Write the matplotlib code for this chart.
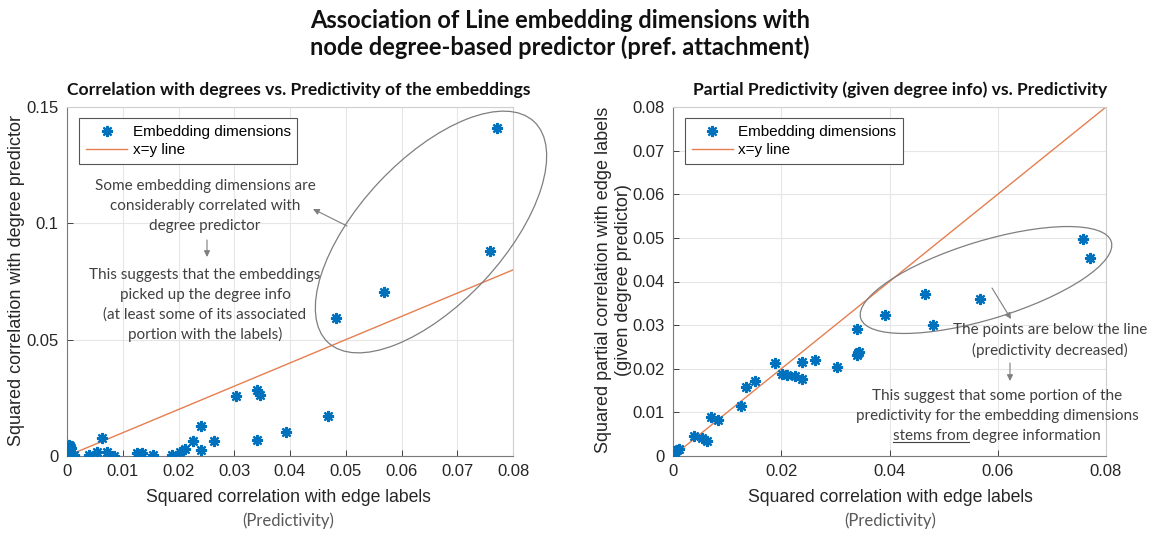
import matplotlib
matplotlib.use("Agg")
import matplotlib.pyplot as plt
from matplotlib.patches import Ellipse
from matplotlib.transforms import IdentityTransform

W, H = 1155, 534

# left panel: predictivity vs. squared correlation with degree predictor
left_x = [0.0771, 0.0758, 0.0569, 0.0482, 0.0468, 0.0392, 0.0341, 0.0340,
          0.0346, 0.0304, 0.0264, 0.0240, 0.0240, 0.0226, 0.0212, 0.0203,
          0.0189, 0.0154, 0.0135, 0.0126, 0.0084, 0.0071, 0.0062, 0.0054,
          0.0039, 0.0013, 0.0002, 0.0004, 0.0006, 0.0003, 0.0008, 0.0001]
left_y = [0.1410, 0.0882, 0.0703, 0.0592, 0.0171, 0.0102, 0.0068, 0.0283,
          0.0264, 0.0260, 0.0065, 0.0131, 0.0026, 0.0063, 0.0032, 0.0016,
          0.0003, 0.0003, 0.0011, 0.0011, 0.0000, 0.0017, 0.0078, 0.0017,
          0.0003, 0.0003, 0.0040, 0.0047, 0.0043, 0.0030, 0.0036, 0.0022]

# right panel: predictivity vs. partial predictivity (given degree info)
right_x = [0.0757, 0.0770, 0.0568, 0.0466, 0.0481, 0.0391, 0.0340, 0.0340,
           0.0344, 0.0342, 0.0303, 0.0263, 0.0239, 0.0239, 0.0225, 0.0210,
           0.0201, 0.0188, 0.0152, 0.0135, 0.0125, 0.0083, 0.0070, 0.0062,
           0.0054, 0.0038, 0.0012, 0.0008, 0.0004, 0.0002, 0.0001]
right_y = [0.0498, 0.0454, 0.0359, 0.0372, 0.0301, 0.0323, 0.0292, 0.0231,
           0.0238, 0.0235, 0.0203, 0.0220, 0.0215, 0.0176, 0.0184, 0.0185,
           0.0187, 0.0213, 0.0172, 0.0159, 0.0115, 0.0083, 0.0089, 0.0035,
           0.0041, 0.0046, 0.0016, 0.0013, 0.0008, 0.0004, 0.0001]

line_x = [0, 0.08]
line_y = [0, 0.08]

left_xticks = [0, 0.01, 0.02, 0.03, 0.04, 0.05, 0.06, 0.07, 0.08]
left_yticks = [0, 0.05, 0.1, 0.15]
right_xticks = [0, 0.02, 0.04, 0.06, 0.08]
right_yticks = [0, 0.01, 0.02, 0.03, 0.04, 0.05, 0.06, 0.07, 0.08]

BLUE = "#0072BD"
ORANGE = "#E57E50"
GRAY = "#7f7f7f"
TXT = "#404040"
AXFONT = "Liberation Sans"
CAL = "Lato"
NOTE = 11


def fx(x):
    return x / W


def fy(y):
    return 1 - y / H


def label(v):
    return "0" if v == 0 else f"{v:g}"


fig = plt.figure(figsize=(W / 100, H / 100), dpi=100)


def make_axes(l, t, r, b, xs, ys, xt, yt, xlim, ylim):
    ax = fig.add_axes([fx(l), fy(b), fx(r - l), (b - t) / H])
    ax.plot(xs, ys, ls="none", marker=(8, 2, 0), ms=8, mew=1.6,
            color=BLUE, label="Embedding dimensions", zorder=3)
    ax.plot(line_x, line_y, color=ORANGE, lw=1, label="x=y line", zorder=2)
    ax.set_xlim(*xlim)
    ax.set_ylim(*ylim)
    ax.set_xticks(xt)
    ax.set_yticks(yt)
    ax.set_xticklabels([label(v) for v in xt])
    ax.set_yticklabels([label(v) for v in yt])
    ax.grid(True, color="#e6e6e6", lw=0.8)
    ax.set_axisbelow(True)
    ax.tick_params(direction="in", length=4, width=0.6, colors="#262626",
                   labelsize=12, pad=6)
    for lab in ax.get_xticklabels() + ax.get_yticklabels():
        lab.set_fontfamily(AXFONT)
    for s in ("left", "bottom"):
        ax.spines[s].set_color("#7a7a7a")
        ax.spines[s].set_linewidth(0.8)
    for s in ("top", "right"):
        ax.spines[s].set_color("#cfcfcf")
        ax.spines[s].set_linewidth(0.8)
    leg = ax.legend(loc="upper left", bbox_to_anchor=(0.027, 0.968),
                    borderaxespad=0, fancybox=False, framealpha=1,
                    edgecolor="#555555", handlelength=2.7, handletextpad=0.35,
                    borderpad=0.45, labelspacing=0.25,
                    prop={"family": AXFONT, "size": 11})
    leg.get_frame().set_linewidth(0.8)
    return ax


ax1 = make_axes(67, 107, 513, 456, left_x, left_y, left_xticks, left_yticks,
                (0, 0.08), (0, 0.15))
ax2 = make_axes(673, 107, 1106, 456, right_x, right_y, right_xticks,
                right_yticks, (0, 0.08), (0, 0.08))

# titles
fig.text(fx(560), fy(20), "Association of Line embedding dimensions with",
         ha="center", va="center", family=CAL, weight="bold", size=17,
         color="#111111")
fig.text(fx(560), fy(47), "node degree-based predictor (pref. attachment)",
         ha="center", va="center", family=CAL, weight="bold", size=17,
         color="#111111")
fig.text(fx(299), fy(90), "Correlation with degrees vs. Predictivity of the embeddings",
         ha="center", va="center", family=CAL, weight="bold", size=12.6,
         color="#111111")
fig.text(fx(900), fy(90), "Partial Predictivity (given degree info) vs. Predictivity",
         ha="center", va="center", family=CAL, weight="bold", size=12.6,
         color="#111111")

# axis labels
for cx in (288, 890):
    fig.text(fx(cx), fy(497), "Squared correlation with edge labels",
             ha="center", va="center", family=AXFONT, size=12.7, color="#262626")
    fig.text(fx(cx), fy(521), "(Predictivity)", ha="center", va="center",
             family=CAL, size=12, color="#595959")
fig.text(fx(17), fy(280), "Squared correlation with degree predictor",
         ha="center", va="center", rotation=90, family=AXFONT, size=13,
         color="#262626")
fig.text(fx(603), fy(280), "Squared partial correlation with edge labels",
         ha="center", va="center", rotation=90, family=AXFONT, size=13,
         color="#262626")
fig.text(fx(624), fy(280), "(given degree predictor)",
         ha="center", va="center", rotation=90, family=AXFONT, size=13,
         color="#262626")

# annotations, left panel
left_notes = [(186, "Some embedding dimensions are"),
              (206, "considerably correlated with"),
              (226, "degree predictor"),
              (275, "This suggests that the embeddings"),
              (295, "picked up the degree info"),
              (315, "(at least some of its associated"),
              (334, "portion with the labels)")]
for y, s in left_notes:
    fig.text(fx(205), fy(y), s, ha="center", va="center", family=CAL,
             size=NOTE, color=TXT)

# annotations, right panel
right_notes = [(330, 1050, "The points are below the line"),
               (350, 1050, "(predictivity decreased)"),
               (396, 997, "This suggest that some portion of the"),
               (416, 997, "predictivity for the embedding dimensions")]
for y, x, s in right_notes:
    fig.text(fx(x), fy(y), s, ha="center", va="center", family=CAL,
             size=NOTE, color=TXT)
last = fig.text(fx(997), fy(436), "stems from degree information",
                ha="center", va="center", family=CAL, size=NOTE, color=TXT)

arrow = dict(arrowstyle="-|>", color=GRAY, lw=0.8, mutation_scale=9,
             shrinkA=0, shrinkB=0)
for tail, head in [((347, 226), (313, 209)), ((207, 240), (207, 257)),
                   ((992, 288), (1011, 319)), ((1010, 363), (1010, 381))]:
    fig.add_artist(plt.Annotation("", xy=(fx(head[0]), fy(head[1])),
                                  xytext=(fx(tail[0]), fy(tail[1])),
                                  xycoords="figure fraction",
                                  arrowprops=arrow))

# ellipses drawn in pixel space
for cx, cy, w, h, ang in [(431, 232, 302, 144, 47), (986, 280, 262, 78, 17)]:
    fig.add_artist(Ellipse((cx, H - cy), w, h, angle=ang, fill=False,
                           edgecolor=GRAY, lw=0.9,
                           transform=IdentityTransform()))

# underline "stems from"
fig.canvas.draw()
r = fig.canvas.get_renderer()
bb = last.get_window_extent(r)
tmp = fig.text(0, 0, "stems from", family=CAL, size=NOTE)
wpart = tmp.get_window_extent(r).width
tmp.remove()
fig.add_artist(plt.Line2D([bb.x0, bb.x0 + wpart], [bb.y0 + 1, bb.y0 + 1],
                          color=TXT, lw=0.8, transform=IdentityTransform()))

fig.savefig("out.png", dpi=100)
